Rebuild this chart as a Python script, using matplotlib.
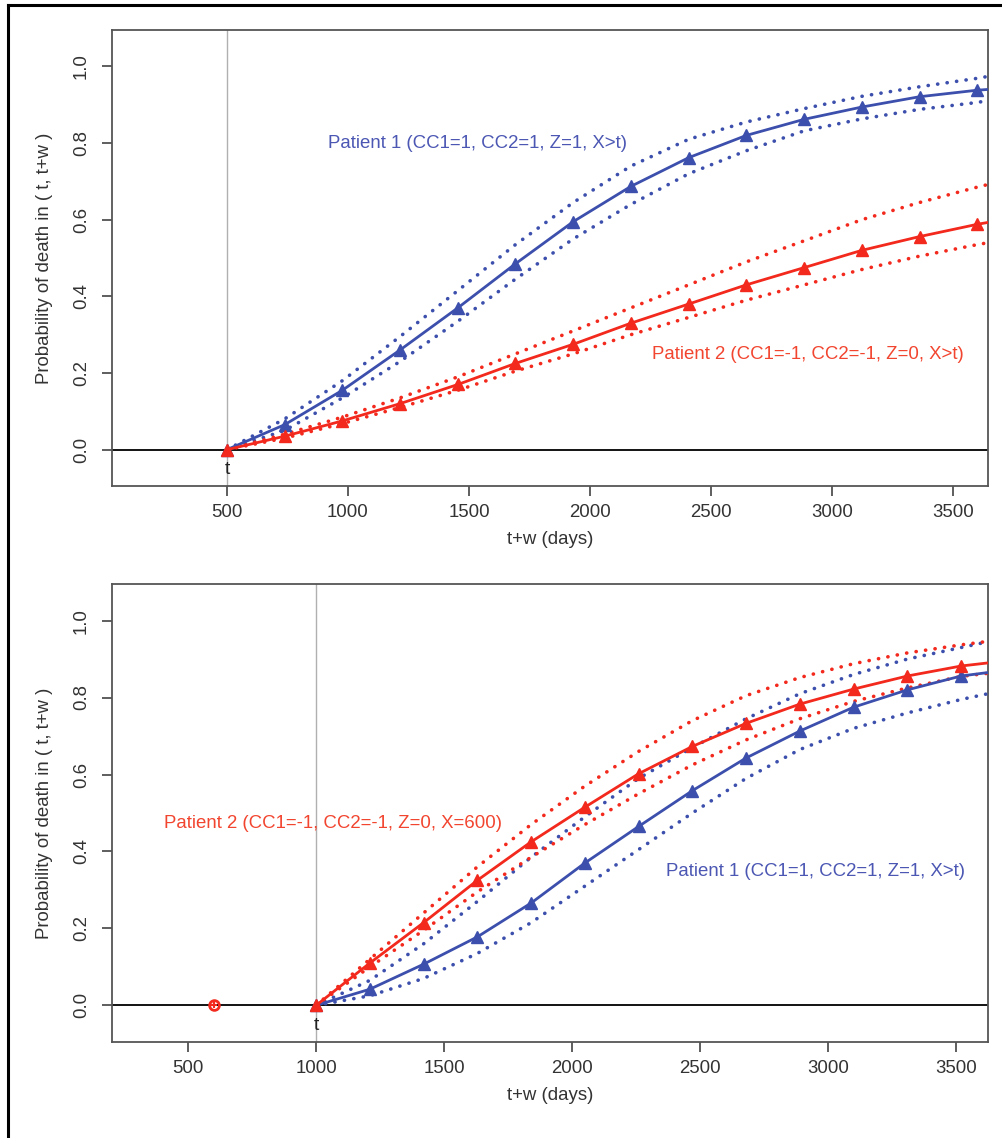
import matplotlib
matplotlib.use('Agg')
import matplotlib.pyplot as plt
from matplotlib.lines import Line2D

plt.rcParams['font.family'] = ['Liberation Sans', 'DejaVu Sans']

BLUE = '#3c4fac'
RED = '#f2291c'
BLUE_TXT = '#4b57b3'
RED_TXT = '#f2452f'

# top panel: t = 500
t1 = 500
x1 = [500, 738, 977, 1215, 1454, 1692, 1931, 2169, 2408, 2646, 2885, 3123, 3362, 3600, 3645]
p1_top = [0, 0.065, 0.155, 0.26, 0.37, 0.485, 0.595, 0.687, 0.762, 0.82, 0.862, 0.894, 0.921, 0.938, 0.94]
p1_top_hi = [0, 0.08, 0.18, 0.295, 0.415, 0.535, 0.645, 0.74, 0.81, 0.855, 0.89, 0.922, 0.947, 0.969, 0.974]
p1_top_lo = [0, 0.05, 0.135, 0.23, 0.335, 0.445, 0.55, 0.64, 0.72, 0.78, 0.832, 0.863, 0.888, 0.906, 0.911]
p2_top = [0, 0.035, 0.075, 0.12, 0.17, 0.225, 0.275, 0.33, 0.38, 0.43, 0.475, 0.52, 0.556, 0.588, 0.593]
p2_top_hi = [0, 0.04, 0.085, 0.135, 0.19, 0.25, 0.31, 0.37, 0.43, 0.49, 0.545, 0.6, 0.645, 0.685, 0.692]
p2_top_lo = [0, 0.03, 0.068, 0.11, 0.155, 0.205, 0.25, 0.3, 0.345, 0.39, 0.43, 0.47, 0.505, 0.535, 0.54]

# bottom panel: t = 1000, patient 2 event at X = 600
t2 = 1000
x2 = [1000, 1210, 1420, 1630, 1840, 2050, 2260, 2470, 2680, 2890, 3100, 3310, 3520, 3625]
p1_bot = [0, 0.042, 0.107, 0.178, 0.266, 0.37, 0.465, 0.558, 0.643, 0.713, 0.775, 0.82, 0.856, 0.865]
p1_bot_hi = [0, 0.065, 0.16, 0.27, 0.385, 0.49, 0.59, 0.67, 0.745, 0.81, 0.86, 0.9, 0.93, 0.945]
p1_bot_lo = [0, 0.025, 0.07, 0.135, 0.215, 0.31, 0.405, 0.5, 0.59, 0.665, 0.72, 0.76, 0.795, 0.81]
p2_bot = [0, 0.11, 0.215, 0.325, 0.425, 0.515, 0.602, 0.673, 0.733, 0.783, 0.822, 0.856, 0.882, 0.89]
p2_bot_hi = [0, 0.12, 0.24, 0.36, 0.47, 0.57, 0.66, 0.74, 0.805, 0.852, 0.888, 0.916, 0.937, 0.946]
p2_bot_lo = [0, 0.1, 0.195, 0.295, 0.385, 0.47, 0.55, 0.625, 0.69, 0.745, 0.79, 0.825, 0.855, 0.863]
x_event = 600

yticks = [0.0, 0.2, 0.4, 0.6, 0.8, 1.0]
ylab = 'Probability of death in ( t, t+w )'
xlab = 't+w (days)'

fig = plt.figure(figsize=(10.03, 11.38), dpi=100)
ax1 = fig.add_axes([0.1117, 0.5729, 0.8734, 0.4007])
ax2 = fig.add_axes([0.1117, 0.0844, 0.8734, 0.4024])

dot = (0, (0.05, 2.6))
FS = 13.4


def draw_curve(ax, x, y, lo, hi, col, nmark):
    ax.plot(x, hi, color=col, lw=2.6, ls=dot, dash_capstyle='round', zorder=3)
    ax.plot(x, lo, color=col, lw=2.6, ls=dot, dash_capstyle='round', zorder=3)
    ax.plot(x, y, color=col, lw=2, marker='^', ms=8, markevery=list(range(nmark)), zorder=4)


def style(ax, t, xlim, xticks):
    ax.set_xlim(*xlim)
    ax.set_ylim(-0.095, 1.095)
    ax.axhline(0, color='black', lw=1.3, zorder=2)
    ax.axvline(t, color='#b0b0b0', lw=1, zorder=1)
    ax.text(t, -0.052, 't', ha='center', va='center', fontsize=14, color='#222222')
    ax.set_xticks(xticks)
    ax.set_xticklabels([str(v) for v in xticks])
    ax.set_yticks(yticks)
    ax.set_yticklabels(['%.1f' % v for v in yticks], rotation=90, va='center')
    ax.tick_params(direction='out', length=7, width=1.1, color='#333333',
                   labelsize=FS, labelcolor='#333333', pad=6)
    ax.tick_params(axis='y', pad=9)
    for s in ax.spines.values():
        s.set_color('#555555')
        s.set_linewidth(1.3)
    ax.set_xlabel(xlab, fontsize=FS, color='#333333', labelpad=7)
    ax.set_ylabel(ylab, fontsize=FS, color='#333333', labelpad=14)


draw_curve(ax1, x1, p1_top, p1_top_lo, p1_top_hi, BLUE, 14)
draw_curve(ax1, x1, p2_top, p2_top_lo, p2_top_hi, RED, 14)
style(ax1, t1, (25, 3645), [500, 1000, 1500, 2000, 2500, 3000, 3500])
ax1.text(1537, 0.80, 'Patient 1 (CC1=1, CC2=1, Z=1, X>t)', color=BLUE_TXT, fontsize=FS,
         ha='center', va='center')
ax1.text(2901, 0.248, 'Patient 2 (CC1=-1, CC2=-1, Z=0, X>t)', color=RED_TXT, fontsize=FS,
         ha='center', va='center')

draw_curve(ax2, x2, p1_bot, p1_bot_lo, p1_bot_hi, BLUE, 13)
draw_curve(ax2, x2, p2_bot, p2_bot_lo, p2_bot_hi, RED, 13)
ax2.plot([x_event], [0], marker='o', ms=7, mfc='none', mec=RED, mew=2, zorder=5)
ax2.plot([x_event], [0], marker='+', ms=5, mec=RED, mew=1.5, zorder=5)
style(ax2, t2, (203, 3625), [500, 1000, 1500, 2000, 2500, 3000, 3500])
ax2.text(1066, 0.473, 'Patient 2 (CC1=-1, CC2=-1, Z=0, X=600)', color=RED_TXT, fontsize=FS,
         ha='center', va='center')
ax2.text(2949, 0.347, 'Patient 1 (CC1=1, CC2=1, Z=1, X>t)', color=BLUE_TXT, fontsize=FS,
         ha='center', va='center')

# page frame (left and top edges)
fig.add_artist(Line2D([0.0075, 0.0075], [0.0, 0.9952], color='black', lw=2.2))
fig.add_artist(Line2D([0.0075, 1.0], [0.9952, 0.9952], color='black', lw=2.2))

fig.savefig('out.png', dpi=100, facecolor='white')
